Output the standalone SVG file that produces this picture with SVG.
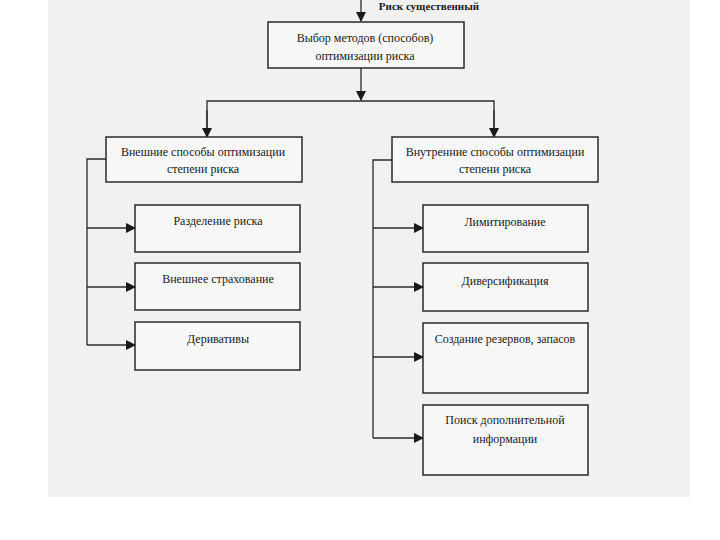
<svg xmlns="http://www.w3.org/2000/svg" width="720" height="540" viewBox="0 0 720 540">
<defs>
<marker id="ah" markerWidth="10" markerHeight="10" refX="9" refY="5" orient="auto" markerUnits="userSpaceOnUse">
<path d="M0,0 L10,5 L0,10 Z" fill="#1a1a1a"/>
</marker>
<style>
.bx{fill:#f7f7f7;stroke:#2a2a2a;stroke-width:1.5}
.ln{fill:none;stroke:#2a2a2a;stroke-width:1.3}
.t{font-family:"Liberation Serif","Times New Roman",serif;font-size:12px;fill:#1a1a1a;text-anchor:middle}
</style>
</defs>
<rect x="0" y="0" width="720" height="540" fill="#ffffff"/>
<rect x="48" y="0" width="642" height="497" fill="#f1f1f1"/>
<g id="connectors">
<line class="ln" x1="361" y1="0" x2="361" y2="21" marker-end="url(#ah)"/>
<line class="ln" x1="361" y1="68" x2="361" y2="100" marker-end="url(#ah)"/>
<polyline class="ln" points="207,130 207,101 494,101 494,130"/>
<line class="ln" x1="207" y1="110" x2="207" y2="137" marker-end="url(#ah)"/>
<line class="ln" x1="494" y1="110" x2="494" y2="137" marker-end="url(#ah)"/>
<polyline class="ln" points="106,159 87,159 87,345"/>
<line class="ln" x1="87" y1="228" x2="135" y2="228" marker-end="url(#ah)"/>
<line class="ln" x1="87" y1="287" x2="135" y2="287" marker-end="url(#ah)"/>
<line class="ln" x1="87" y1="345" x2="135" y2="345" marker-end="url(#ah)"/>
<polyline class="ln" points="392,160 373,160 373,438"/>
<line class="ln" x1="373" y1="228" x2="423" y2="228" marker-end="url(#ah)"/>
<line class="ln" x1="373" y1="287" x2="423" y2="287" marker-end="url(#ah)"/>
<line class="ln" x1="373" y1="357" x2="423" y2="357" marker-end="url(#ah)"/>
<line class="ln" x1="373" y1="438" x2="423" y2="438" marker-end="url(#ah)"/>
</g>
<g id="label-risk">
<text class="t" x="429" y="10" style="font-weight:bold;font-size:11px">Риск существенный</text>
</g>
<g id="n-top">
<rect class="bx" x="268" y="22" width="196" height="46"/>
<text class="t" x="365" y="42">Выбор методов (способов)</text>
<text class="t" x="365" y="60">оптимизации риска</text>
</g>
<g id="n-ext">
<rect class="bx" x="106" y="137" width="196" height="45"/>
<text class="t" x="203" y="156">Внешние способы оптимизации</text>
<text class="t" x="203" y="173">степени риска</text>
</g>
<g id="n-int">
<rect class="bx" x="392" y="137" width="206" height="45"/>
<text class="t" x="495" y="156">Внутренние способы оптимизации</text>
<text class="t" x="495" y="173">степени риска</text>
</g>
<g id="n-e1">
<rect class="bx" x="135" y="205" width="165" height="47"/>
<text class="t" x="218" y="225">Разделение риска</text>
</g>
<g id="n-e2">
<rect class="bx" x="135" y="263" width="165" height="47"/>
<text class="t" x="218" y="283">Внешнее страхование</text>
</g>
<g id="n-e3">
<rect class="bx" x="135" y="322" width="165" height="48"/>
<text class="t" x="218" y="343">Деривативы</text>
</g>
<g id="n-i1">
<rect class="bx" x="423" y="205" width="165" height="47"/>
<text class="t" x="505" y="226">Лимитирование</text>
</g>
<g id="n-i2">
<rect class="bx" x="423" y="263" width="165" height="48"/>
<text class="t" x="505" y="285">Диверсификация</text>
</g>
<g id="n-i3">
<rect class="bx" x="423" y="323" width="165" height="70"/>
<text class="t" x="505" y="343">Создание резервов, запасов</text>
</g>
<g id="n-i4">
<rect class="bx" x="423" y="405" width="165" height="70"/>
<text class="t" x="505" y="424">Поиск дополнительной</text>
<text class="t" x="505" y="443">информации</text>
</g>
</svg>
